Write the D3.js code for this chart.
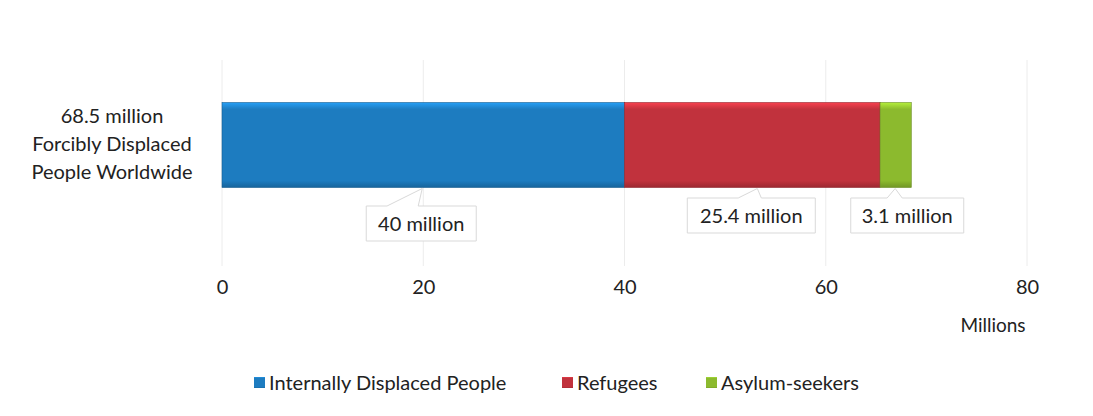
<!DOCTYPE html>
<html>
<head>
<meta charset="utf-8">
<script src="https://cdn.jsdelivr.net/npm/d3@7"></script>
<style>
  body { margin: 0; background: #fff; }
  text { font-family: Lato, "Open Sans", sans-serif; fill: #222; }
</style>
</head>
<body>
<svg id="chart"></svg>
<script>
var categories = ["68.5 million|Forcibly Displaced|People Worldwide"];
var seriesNames = ["Internally Displaced People", "Refugees", "Asylum-seekers"];
var seriesValues = [40, 25.4, 3.1];
var dataLabels = ["40 million", "25.4 million", "3.1 million"];
var xTicks = [0, 20, 40, 60, 80];
var colors = ["#1d7cc0", "#c1323d", "#8cba2e"];

var W = 1093, H = 416;
var margin = {top: 60, right: 66, bottom: 150, left: 222};
var width = W - margin.left - margin.right,
    height = H - margin.top - margin.bottom;

var svg = d3.select("#chart").attr("width", W).attr("height", H);
var defs = svg.append("defs");

colors.forEach(function(c, i) {
    var g = defs.append("linearGradient").attr("id", "grad" + i)
        .attr("x1", 0).attr("y1", 0).attr("x2", 0).attr("y2", 1);
    g.append("stop").attr("offset", "0%").attr("stop-color", d3.color(c).brighter(0.7));
    g.append("stop").attr("offset", "8%").attr("stop-color", c);
    g.append("stop").attr("offset", "92%").attr("stop-color", c);
    g.append("stop").attr("offset", "100%").attr("stop-color", d3.color(c).darker(0.6));
});

var chart = svg.append("g").attr("transform", "translate(" + margin.left + "," + margin.top + ")");

var x = d3.scaleLinear().domain([0, 80]).range([0, width]);
var y = d3.scaleBand().domain(categories).range([0, 170]).paddingInner(0).paddingOuter(0.5);

// gridlines
chart.selectAll(".grid")
    .data(xTicks)
    .join("line")
    .attr("x1", d => x(d)).attr("x2", d => x(d))
    .attr("y1", 0).attr("y2", height)
    .attr("stroke", "#ececec");

// stacked segments
var stack = [];
var acc = 0;
seriesValues.forEach(function(v, i) {
    stack.push({name: seriesNames[i], x0: acc, x1: acc + v, i: i, label: dataLabels[i]});
    acc += v;
});

var bandY = y(categories[0]), bandH = y.bandwidth();

chart.selectAll(".seg")
    .data(stack)
    .join("rect")
    .attr("x", d => x(d.x0))
    .attr("width", d => x(d.x1) - x(d.x0))
    .attr("y", bandY)
    .attr("height", bandH)
    .attr("fill", d => "url(#grad" + d.i + ")")
    .attr("stroke", d => d3.color(colors[d.i]).darker(0.8))
    .attr("stroke-width", 0.6);

// category label
var catLines = categories[0].split("|");
chart.append("text")
    .attr("text-anchor", "middle")
    .attr("y", 63)
    .style("font-size", "20px")
    .selectAll("tspan")
    .data(catLines)
    .join("tspan")
    .attr("x", -110)
    .attr("dy", (d, i) => i === 0 ? 0 : 28)
    .text(d => d);

// callouts (box centre, tip position and base, in data units)
var callout = [
    {tip: 19.9, b0: 16.4, b1: 19.5, bx: 19.8, by: 146, w: 110},
    {tip: 53.2, b0: 51.3, b1: 53.6, bx: 52.6, by: 138, w: 128},
    {tip: 66.9, b0: 66.1, b1: 67.6, bx: 68.1, by: 138, w: 113}
];
stack.forEach(function(d, i) {
    var c = callout[i];
    var cx = x(c.bx), bw = c.w, bh = 35;
    var left = cx - bw / 2, top = c.by;
    var path = "M" + left + "," + top +
        "H" + x(c.b0) + "L" + x(c.tip) + "," + (bandY + bandH + 1) + "L" + x(c.b1) + "," + top +
        "H" + (left + bw) + "V" + (top + bh) + "H" + left + "Z";
    chart.append("path").attr("d", path)
        .attr("fill", "#fff").attr("stroke", "#d9d9d9").attr("stroke-width", 1);
    chart.append("text")
        .attr("x", cx).attr("y", top + bh / 2 + 7)
        .attr("text-anchor", "middle")
        .style("font-size", "20px")
        .text(d.label);
});

// x axis labels
var axis = chart.append("g")
    .attr("transform", "translate(0," + (height + 14) + ")")
    .call(d3.axisBottom(x).tickValues(xTicks).tickSize(0).tickPadding(0));
axis.select(".domain").remove();
axis.selectAll("text")
    .style("font-family", "Lato, 'Open Sans', sans-serif")
    .style("font-size", "20px")
    .attr("fill", "#222");

chart.append("text")
    .attr("x", x(80) - 34).attr("y", height + 66)
    .attr("text-anchor", "middle")
    .style("font-size", "19px")
    .text("Millions");

// legend
var legend = svg.append("g").attr("transform", "translate(0,383)");
var legX = [254, 562, 706];
seriesNames.forEach(function(n, i) {
    var g = legend.append("g").attr("transform", "translate(" + legX[i] + ",0)");
    g.append("rect").attr("x", 0).attr("y", -6).attr("width", 11).attr("height", 11)
        .attr("fill", "url(#grad" + i + ")");
    g.append("text").attr("x", 15).attr("y", 7)
        .style("font-size", "20px")
        .text(n);
});
</script>
</body>
</html>
